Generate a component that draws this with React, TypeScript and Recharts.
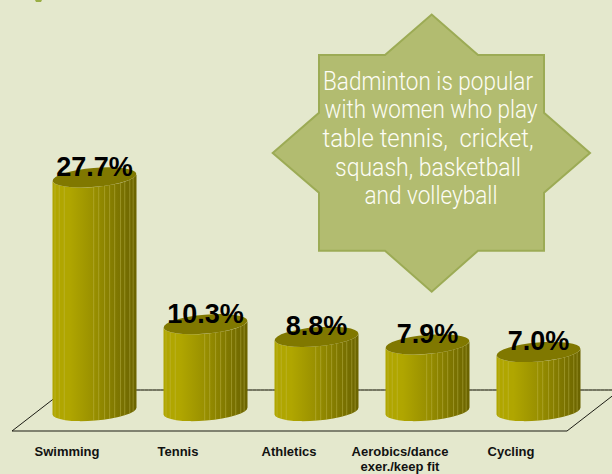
import React from "react";
import { BarChart, Bar, XAxis, YAxis, LabelList, usePlotArea } from "recharts";

const CATEGORIES = ["Swimming", "Tennis", "Athletics", "Aerobics/dance", "Cycling"];
const SHARES = [27.7, 10.3, 8.8, 7.9, 7.0];
const TICK_SECOND_LINES = ["", "", "", "exer./keep fit", ""];
const CALLOUT_LINES = [
  { text: "Badminton is popular", x: 428, y: 90, w: 210 },
  { text: "with women who play", x: 431, y: 118, w: 213 },
  { text: "table tennis,  cricket,", x: 428, y: 147, w: 211 },
  { text: "squash, basketball", x: 428, y: 176, w: 186 },
  { text: "and volleyball", x: 431, y: 204, w: 133 },
];

const data = CATEGORIES.map((name, i) => ({
  name,
  share: SHARES[i],
  second: TICK_SECOND_LINES[i],
}));

const BG = "#e4e8cd";
const STAR = "319,55 385,55 431.7,14.5 478,55 544,55 544,112.7 590,153 544,192.7 544,250.7 478,250.7 431.7,291.7 385,250.7 319,250.7 319,192.7 272.7,153 319,112.7";
const STRIPES = [0.03, 0.08, 0.14, 0.49, 0.55, 0.62, 0.68, 0.74, 0.81, 0.86, 0.92, 0.96];
const TILT = 3.5;
const RY = 9.5;

// flat floor the columns stand on, hung off the plot area
function Floor({ overlay }: { overlay?: boolean }) {
  const plot = usePlotArea();
  if (!plot) return null;
  const base = plot.y + plot.height;
  const back = base - 21;
  const front = base + 20;
  if (overlay) {
    return <line x1={plot.x + 26.5} x2={612} y1={back} y2={back} stroke="#3c3a10" strokeWidth={1} opacity={0.3} strokeDasharray="3 1" />;
  }
  return (
    <polyline
      points={`${plot.x - 26.5},${front} ${plot.x + 528.5},${front} ${plot.x + 581.5},${back} ${plot.x + 26.5},${back} ${plot.x - 26.5},${front}`}
      fill="none"
      stroke="#1c1c14"
      strokeWidth={1}
    />
  );
}

function Cylinder(props: any) {
  const { x, y, width, height, index } = props;
  const bottom = y + height;
  const rx = width / 2;
  const right = x + width;
  const body = `M${x},${y + TILT} L${x},${bottom + TILT} A${rx},${RY} -4.8 0 0 ${right},${bottom - TILT} L${right},${y - TILT} A${rx},${RY} -4.8 0 1 ${x},${y + TILT} Z`;
  return (
    <g>
      <clipPath id={`cyl-${index}`}>
        <path d={body} />
      </clipPath>
      <path d={body} fill="url(#cylFill)" />
      <g clipPath={`url(#cyl-${index})`}>
        {STRIPES.map((s) => (
          <line key={s} x1={x + s * width} x2={x + s * width} y1={y - 12} y2={bottom + 14} stroke="#c9c25a" strokeWidth={1} opacity={0.4} />
        ))}
      </g>
      <ellipse cx={x + rx} cy={y} rx={rx} ry={RY} transform={`rotate(-4.8 ${x + rx} ${y})`} fill="#807800" />
    </g>
  );
}

function CategoryTick(props: any) {
  const { x, payload, index } = props;
  return (
    <text textAnchor="middle" fontFamily="'Liberation Sans', Arial, sans-serif" fontWeight={700} fontSize={13} fill="#111">
      <tspan x={x - 27} y={456}>{payload.value}</tspan>
      {TICK_SECOND_LINES[index] ? <tspan x={x - 27} y={471}>{TICK_SECOND_LINES[index]}</tspan> : null}
    </text>
  );
}

function ShareLabel(props: any) {
  const { x, y, width, value } = props;
  return (
    <text x={x + width / 2} y={y - 1.5} textAnchor="middle" fontFamily="'Liberation Sans', Arial, sans-serif" fontWeight={700} fontSize={27} fill="#000">
      {value.toFixed(1)}%
    </text>
  );
}

export default function App() {
  return (
    <div style={{ position: "absolute", left: 0, top: 0, width: 612, height: 474, background: BG, overflow: "hidden" }}>
      <BarChart
        width={612}
        height={474}
        data={data}
        barSize={84}
        margin={{ top: 158, right: 18.5, bottom: 0, left: 38.5 }}
      >
        <defs>
          <linearGradient id="cylFill" x1="0" x2="1" y1="0" y2="0">
            <stop offset="0" stopColor="#b0a600" />
            <stop offset="0.2" stopColor="#b0a600" />
            <stop offset="0.5" stopColor="#988f00" />
            <stop offset="0.8" stopColor="#7c7400" />
            <stop offset="1" stopColor="#6a6300" />
          </linearGradient>
        </defs>
        <Floor />
        <XAxis dataKey="name" height={63} axisLine={false} tickLine={false} interval={0} tick={<CategoryTick />} />
        <YAxis hide domain={[0, 30]} />
        <Bar dataKey="share" shape={<Cylinder />} isAnimationActive={false}>
          <LabelList dataKey="share" content={<ShareLabel />} />
        </Bar>
        <Floor overlay />
        <path d="M35,0 L42,0 L41,2 L36,2 Z" fill="#9aae45" />
        <polygon points={STAR} fill="#b2bc70" stroke="#9cab55" strokeWidth={2} />
        {CALLOUT_LINES.map((l) => (
          <text
            key={l.text}
            x={l.x}
            y={l.y}
            textAnchor="middle"
            fontFamily="Roboto, 'Liberation Sans', sans-serif"
            fontWeight={300}
            fontSize={25}
            fill="#fdfdf5"
            textLength={l.w}
            lengthAdjust="spacingAndGlyphs"
            xmlSpace="preserve"
          >
            {l.text}
          </text>
        ))}
      </BarChart>
    </div>
  );
}
